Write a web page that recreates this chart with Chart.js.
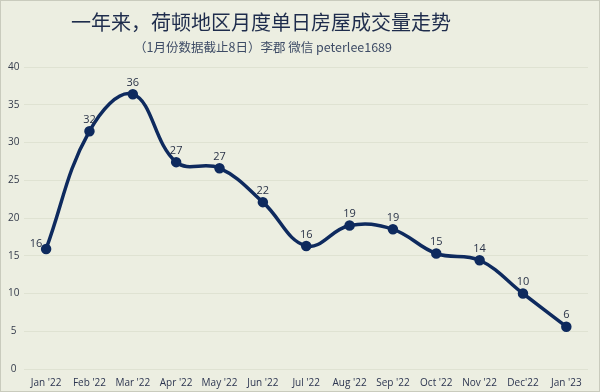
<!DOCTYPE html>
<html>
<head>
<meta charset="utf-8">
<script src="https://cdn.jsdelivr.net/npm/chart.js@4"></script>
<style>
  html, body { margin: 0; padding: 0; background: #eceee1; }
  #wrap { width: 600px; height: 392px; }
</style>
</head>
<body>
<div id="wrap"><canvas id="chart"></canvas></div>
<script>
const months = ["Jan '22", "Feb '22", "Mar '22", "Apr '22", "May '22", "Jun '22", "Jul '22",
  "Aug '22", "Sep '22", "Oct '22", "Nov '22", "Dec'22", "Jan '23"];
const dailySales = [15.9, 31.5, 36.4, 27.4, 26.6, 22.1, 16.3, 19.0, 18.5, 15.3, 14.4, 10.0, 5.6];
const yTicks = [0, 5, 10, 15, 20, 25, 30, 35, 40];
const titleText = '一年来，荷顿地区月度单日房屋成交量走势';
const subtitleText = '（1月份数据截止8日）李郡 微信 peterlee1689';

const navy = '#0e2a5e';

// title, subtitle and frame (the title block sits a bit left of centre)
const header = {
  id: 'header',
  beforeDraw(chart) {
    let ctx = chart.ctx;
    ctx.save();
    ctx.fillStyle = '#eceee1';
    ctx.fillRect(0, 0, chart.width, chart.height);
    ctx.strokeStyle = '#c9cbbd';
    ctx.lineWidth = 1;
    ctx.strokeRect(0.5, 0.5, chart.width - 1, chart.height - 1);
    ctx.textAlign = 'center';
    ctx.textBaseline = 'middle';
    ctx.fillStyle = '#1e2c4c';
    ctx.font = '20px "Noto Sans CJK SC", sans-serif';
    ctx.fillText(titleText, 261, 22);
    ctx.fillStyle = '#3e4c66';
    ctx.font = '12.5px "Noto Sans CJK SC", sans-serif';
    ctx.fillText(subtitleText, 263, 47);
    ctx.restore();
  }
};

// draw rounded value labels above each point
const valueLabels = {
  id: 'valueLabels',
  afterDatasetsDraw(chart) {
    let ctx = chart.ctx;
    let meta = chart.getDatasetMeta(0);
    ctx.save();
    ctx.font = '11px "Open Sans", sans-serif';
    ctx.fillStyle = '#2a3348';
    ctx.textAlign = 'center';
    ctx.textBaseline = 'bottom';
    meta.data.forEach((pt, i) => {
      let x = pt.x;
      if (i == 0) x -= 10;
      ctx.fillText(Math.round(dailySales[i]), x, pt.y - (i == 0 ? 0 : 6));
    });
    ctx.restore();
  }
};

let ctx = document.getElementById('chart').getContext('2d');

let myChart = new Chart(ctx, {
  type: 'line',
  data: {
    labels: months,
    datasets: [{
      data: dailySales,
      borderColor: navy,
      backgroundColor: navy,
      borderWidth: 3.5,
      pointRadius: 3.5,
      pointBackgroundColor: navy,
      tension: 0.4,
      fill: false,
    }]
  },
  options: {
    responsive: true,
    maintainAspectRatio: false,
    animation: false,
    layout: { padding: { left: 3, right: 12, top: 67, bottom: 3 } },
    plugins: {
      legend: { display: false },
      tooltip: { enabled: false },
      title: { display: false }
    },
    scales: {
      x: {
        offset: true,
        grid: { display: false },
        border: { display: false },
        ticks: {
          color: '#2c3550',
          font: { family: '"Open Sans", sans-serif', size: 10 },
          maxRotation: 0,
          autoSkip: false,
          padding: 0
        }
      },
      y: {
        min: 0,
        max: 40,
        afterBuildTicks(axis) {
          axis.ticks = yTicks.map(v => ({ value: v }));
        },
        grid: { color: '#dfe2d2', lineWidth: 1, drawTicks: false },
        border: { display: false },
        ticks: {
          color: '#333a4a',
          font: { family: '"Open Sans", sans-serif', size: 10 },
          crossAlign: 'center',
          padding: 5
        }
      }
    }
  },
  plugins: [header, valueLabels]
});
</script>
</body>
</html>
